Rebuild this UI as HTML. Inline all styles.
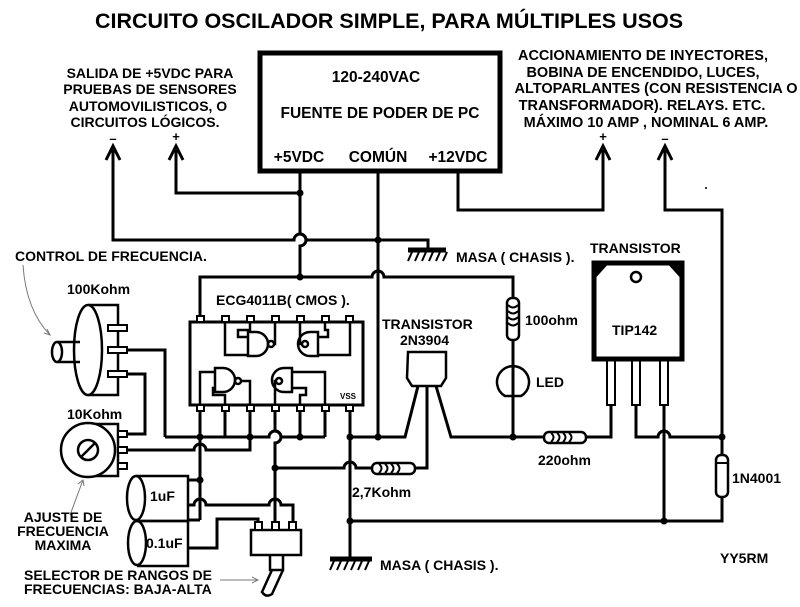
<!DOCTYPE html>
<html><head><meta charset="utf-8"><style>
html,body{margin:0;padding:0;background:#fff}
svg{display:block}
text{font-family:"Liberation Sans",sans-serif;font-weight:bold;fill:#000}
</style></head><body>
<svg width="800" height="607" viewBox="0 0 800 607" xmlns="http://www.w3.org/2000/svg">
<g stroke="#000" stroke-width="3" fill="none" stroke-linejoin="miter">
<rect x="260" y="53" width="240" height="118" stroke-width="5"/>
<path d="M300 171 V234 A6 6 0 0 1 300 246 V277"/>
<path d="M176 150 V193 H300"/>
<path d="M378 171 V437"/>
<path d="M113 150 V240 H294 A6 6 0 0 1 306 240 H428 V250"/>
<path d="M458 171 V210 H603 V150"/>
<path d="M665 150 V210 H722 V455"/>
<path d="M722 497 V521 H350"/>
<path d="M106 160 L113 146 L120 160 M169 160 L176 146 L183 160 M596 160 L603 146 L610 160 M658 160 L665 146 L672 160"/>
<path d="M200 316 V277 H372 A6 6 0 0 1 384 277 H513 V298"/>
<path d="M513 340 V437"/>
<rect x="190" y="322" width="173" height="83" stroke-width="3"/>
<path d="M200 411 V437 M225 411 V437 M250 411 V437 M300 411 V437 M325 411 V437 M350 411 V559 M275 411 V431 A6 6 0 0 1 275 443 V522"/>
<path d="M165 437 H269 A6 6 0 0 1 281 437 H325"/>
<path d="M200 437 V520 M200 480 H188"/>
<path d="M200 520 H188"/>
<path d="M127 350 H165 V437"/>
<path d="M127 374 H145 V434 H128"/>
<path d="M128 450 H194 A6 6 0 0 1 206 450 H250 V437"/>
<path d="M350 437 H405 L418 386"/>
<path d="M275 468 H344 A6 6 0 0 1 356 468 H372"/>
<path d="M415 468 H427 V386"/>
<path d="M436 386 L451 437 H544 M586 437 H611 V405"/>
<path d="M636 405 V437 H658 A6 6 0 0 1 670 437 H722"/>
<path d="M664 405 V521"/>
<path d="M188 505 H194 A6 6 0 0 1 206 505 H269 A6 6 0 0 1 281 505 H293 V522"/>
<path d="M188 548 H217 V519 H258 V522"/>
<rect x="594" y="263" width="88" height="96" stroke-width="5"/>
<circle cx="636" cy="277" r="5" stroke-width="2.5"/>
<path d="M505 396 A16 16 0 1 1 521 396 Z" stroke-width="2.5"/>
<path d="M408 352 H446 V378 L441 386 H412 L407 378 Z" stroke-width="2.5"/>
<path d="M408 250 H446 M330 559 H372" stroke-width="5"/>
<rect x="251" y="530" width="50" height="25" stroke-width="2.5"/>
<path d="M270 556 V570 H283 V556" stroke-width="2.5"/>
<path d="M272 570 L262 592 Q266 598 272 594 L283 570" stroke-width="2.5"/>
<path d="M88 424 H118 V476 H88" stroke-width="2.5"/>
<circle cx="88" cy="450" r="27" stroke-width="2.5" fill="#fff"/>
<circle cx="88" cy="450" r="10" stroke-width="2.5"/>
<path d="M81 457 L95 443" stroke-width="2.5"/>
<path d="M88 305 H118 V395 H88" stroke-width="2.5"/>
<ellipse cx="88" cy="350" rx="14" ry="45" stroke-width="2.5" fill="#fff"/>
<path d="M57 342 H80 M57 362 H80" stroke-width="2.5"/>
<ellipse cx="57" cy="352" rx="5" ry="10" stroke-width="2.5"/>
<path d="M136 476 H188 V521 H136" stroke-width="2.5"/>
<ellipse cx="136" cy="498" rx="9" ry="22" stroke-width="2.5" fill="#fff"/>
<path d="M137 521 H188 V566 H137" stroke-width="2.5"/>
<ellipse cx="137" cy="543" rx="9" ry="22" stroke-width="2.5" fill="#fff"/>
<g stroke-width="2.5">
<path d="M248 332 H256 A12 12 0 0 1 256 356 H248 Z"/><circle cx="271" cy="344" r="3"/>
<path d="M225 322 V355 H248 M250 322 V330 H238 V337 H248 M274 344 H275 V322"/>
<path d="M318 332 H310 A12 12 0 0 0 310 356 H318 Z"/><circle cx="305" cy="344" r="3"/>
<path d="M300 322 V344 H302 M325 322 V330 H328 V337 H318 M350 322 V355 H318"/>
<path d="M215 368 H223 A12 12 0 0 1 223 392 H215 Z"/><circle cx="238" cy="381" r="3"/>
<path d="M200 405 V372 H215 M225 405 V395 H213 V388 H215 M241 381 H250 V405"/>
<path d="M292 368 H284 A12 12 0 0 0 284 392 H292 Z"/><circle cx="279" cy="381" r="3"/>
<path d="M275 405 V381 H276 M300 405 V395 H306 V388 H292 M325 405 V372 H292"/>
</g>
<g stroke-width="2"><rect x="607" y="360" width="8" height="45"/><rect x="632" y="360" width="8" height="45"/><rect x="660" y="360" width="8" height="45"/></g>
<rect x="507" y="298" width="12" height="42" rx="5" stroke-width="2.5" fill="#fff"/>
<path d="M508 305 Q513 310 518 305 M508 311 Q513 316 518 311 M508 317 Q513 322 518 317 M508 323 Q513 328 518 323" stroke-width="2"/>
<rect x="544" y="432" width="42" height="11" rx="5" stroke-width="2.5" fill="#fff"/>
<path d="M551 433 Q556 437 551 442 M557 433 Q562 437 557 442 M563 433 Q568 437 563 442 M569 433 Q574 437 569 442" stroke-width="2"/>
<rect x="372" y="463" width="43" height="11" rx="5" stroke-width="2.5" fill="#fff"/>
<path d="M379 464 Q384 468 379 473 M385 464 Q390 468 385 473 M391 464 Q396 468 391 473 M397 464 Q402 468 397 473" stroke-width="2"/>
<rect x="716" y="455" width="12" height="42" rx="5" stroke-width="2.5" fill="#fff"/>
<path d="M716 463 H728" stroke-width="2"/>
<g stroke="#777" stroke-width="1"><path d="M23 265 Q26 310 50 335 M44 333 L50 335 L47 329"/><path d="M70 515 L83 480 M78 484 L83 480 L84 486"/><path d="M220 580 H258 M252 577 L258 580 L252 583"/></g>
</g>
<g fill="#fff" stroke="#000" stroke-width="2">
<rect x="197" y="316" width="7" height="6"/><rect x="222" y="316" width="7" height="6"/><rect x="247" y="316" width="7" height="6"/><rect x="272" y="316" width="7" height="6"/><rect x="297" y="316" width="7" height="6"/><rect x="322" y="316" width="7" height="6"/><rect x="346" y="316" width="7" height="6"/>
<rect x="197" y="405" width="7" height="6"/><rect x="222" y="405" width="7" height="6"/><rect x="247" y="405" width="7" height="6"/><rect x="272" y="405" width="7" height="6"/><rect x="297" y="405" width="7" height="6"/><rect x="322" y="405" width="7" height="6"/><rect x="346" y="405" width="7" height="6"/>
<rect x="108" y="325" width="19" height="6"/><rect x="108" y="347" width="19" height="6"/><rect x="108" y="371" width="19" height="6"/>
<rect x="118" y="431" width="9" height="6"/><rect x="118" y="447" width="9" height="6"/><rect x="118" y="463" width="9" height="6"/>
<rect x="255" y="522" width="7" height="8"/><rect x="272" y="522" width="7" height="8"/><rect x="289" y="522" width="7" height="8"/>
</g>
<g stroke="#000" stroke-width="2"><path d="M412 252 L408 261 M419 252 L415 261 M426 252 L422 261 M433 252 L429 261 M440 252 L436 261 M447 252 L443 261"/>
<path d="M334 561 L330 570 M341 561 L337 570 M348 561 L344 570 M355 561 L351 570 M362 561 L358 570 M369 561 L365 570"/>
<path d="M596 265 L606 265 L596 276 Z M680 265 L670 265 L680 276 Z" fill="#000"/></g>
<g fill="#000"><circle cx="300" cy="193" r="3.5"/><circle cx="378" cy="240" r="3.5"/><circle cx="300" cy="277" r="3.5"/><circle cx="200" cy="437" r="3.5"/><circle cx="250" cy="437" r="3.5"/><circle cx="300" cy="437" r="3.5"/><circle cx="350" cy="437" r="3.5"/><circle cx="378" cy="437" r="3.5"/><circle cx="513" cy="437" r="3.5"/><circle cx="722" cy="437" r="3.5"/><circle cx="200" cy="480" r="3.5"/><circle cx="275" cy="468" r="3.5"/><circle cx="350" cy="521" r="3.5"/><circle cx="664" cy="521" r="3.5"/><circle cx="706" cy="188" r="1"/></g>
<text x="389" y="28" font-size="21.5" text-anchor="middle">CIRCUITO OSCILADOR SIMPLE, PARA MÚLTIPLES USOS</text>
<g font-size="15.5" text-anchor="middle">
<text x="376" y="82">120-240VAC</text>
<text x="380" y="118">FUENTE DE PODER DE PC</text>
<text x="299" y="162">+5VDC</text><text x="378" y="162">COMÚN</text><text x="458" y="162">+12VDC</text>
</g>
<g font-size="14" text-anchor="middle">
<text x="150" y="78">SALIDA DE +5VDC PARA</text><text x="150" y="94">PRUEBAS DE SENSORES</text><text x="148" y="111">AUTOMOVILISTICOS, O</text><text x="145" y="127">CIRCUITOS LÓGICOS.</text>
</g>
<g font-size="14.5" text-anchor="middle">
<text x="643" y="60">ACCIONAMIENTO  DE INYECTORES,</text><text x="643" y="77">BOBINA DE ENCENDIDO, LUCES,</text><text x="656" y="93">ALTOPARLANTES (CON RESISTENCIA O</text><text x="642" y="110">TRANSFORMADOR). RELAYS. ETC.</text><text x="646" y="127">MÁXIMO 10 AMP , NOMINAL 6 AMP.</text>
</g>
<g font-size="13" text-anchor="middle">
<text x="113" y="143">–</text><text x="176" y="141">+</text><text x="603" y="141">+</text><text x="665" y="143">–</text>
</g>
<g font-size="14">
<text x="15" y="261">CONTROL DE FRECUENCIA.</text>
<text x="67" y="294">100Kohm</text>
<text x="67" y="419">10Kohm</text>
<text x="216" y="305">ECG4011B( CMOS ).</text>
<text x="456" y="262">MASA ( CHASIS ).</text>
<text x="590" y="253">TRANSISTOR</text>
<text x="382" y="329">TRANSISTOR</text>
<text x="400" y="345">2N3904</text>
<text x="525" y="325">100ohm</text>
<text x="536" y="387">LED</text>
<text x="612" y="335">TIP142</text>
<text x="538" y="465">220ohm</text>
<text x="352" y="497">2,7Kohm</text>
<text x="732" y="483">1N4001</text>
<text x="150" y="501">1uF</text>
<text x="146" y="548">0.1uF</text>
<text x="380" y="570">MASA ( CHASIS ).</text>
<text x="720" y="563">YY5RM</text>
<text x="24" y="580">SELECTOR DE RANGOS DE</text>
<text x="24" y="594">FRECUENCIAS: BAJA-ALTA</text>
</g>
<g font-size="14" text-anchor="middle"><text x="63" y="522">AJUSTE DE</text><text x="63" y="536">FRECUENCIA</text><text x="63" y="550">MAXIMA</text></g>
<text x="340" y="399" font-size="8">VSS</text>
</svg>
</body></html>
